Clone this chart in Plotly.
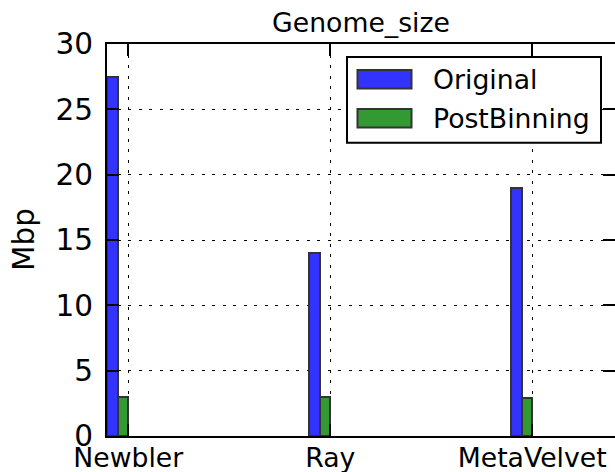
import plotly.graph_objects as go

# Genome size per assembler, before and after binning (Mbp)
categories = ["Newbler", "Ray", "MetaVelvet"]
original = [27.5, 14.0, 19.0]
post_binning = [3.0, 3.0, 2.9]
series_names = ["Original", "PostBinning"]
y_ticks = [0, 5, 10, 15, 20, 25, 30]

W, H = 615, 472
L, R, T, B = 107, 0, 44, 35.5
PW, PH = W - L - R, H - T - B

FONT = "DejaVu Sans"
FS = 26.7      # title, x tick labels, legend
FS_Y = 29.5    # y tick labels and y label
BLUE = "#3333ff"
GREEN = "#339933"
EDGE = "#333333"

bar_w = 0.0527
positions = list(range(len(categories)))


def px_x(px):
    return (px - L) / PW


def px_y(py):
    return (H - B - py) / PH


fig = go.Figure()
fig.add_trace(go.Bar(
    x=positions, y=original, name=series_names[0],
    width=bar_w, offset=-2 * bar_w,
    marker=dict(color=BLUE, line=dict(color=EDGE, width=2)),
    showlegend=False,
))
fig.add_trace(go.Bar(
    x=positions, y=post_binning, name=series_names[1],
    width=bar_w, offset=-bar_w,
    marker=dict(color=GREEN, line=dict(color=EDGE, width=2)),
    showlegend=False,
))
# empty trace so the right-hand tick axis is drawn
fig.add_trace(go.Scatter(x=[None], y=[None], yaxis="y2", showlegend=False,
                         hoverinfo="skip"))

grid = dict(showgrid=True, gridcolor="black", gridwidth=1.3, griddash="3px,7.5px")

fig.update_layout(
    width=W, height=H,
    margin=dict(l=L, r=R, t=T, b=B, pad=0),
    paper_bgcolor="white", plot_bgcolor="white",
    font=dict(family=FONT, size=FS, color="black"),
    bargap=0,
    title=dict(text="Genome_size", x=0.5, xref="paper", xanchor="center",
               y=1 - 22.4 / H, yref="container", yanchor="middle",
               font=dict(family=FONT, size=FS, color="black")),
    xaxis=dict(
        range=[-2 * bar_w, 2.41], tickvals=positions, ticktext=categories,
        ticks="inside", ticklen=12, tickwidth=1.5, tickcolor="black",
        showline=True, linecolor="black", linewidth=2, mirror="ticks",
        zeroline=False, automargin=False, ticklabelstandoff=-3,
        tickfont=dict(family=FONT, size=FS, color="black"),
        layer="above traces", **grid,
    ),
    yaxis=dict(
        range=[0, 30], tickvals=y_ticks,
        ticks="inside", ticklen=12, tickwidth=1.5, tickcolor="black",
        showline=True, linecolor="black", linewidth=2, mirror=False,
        zeroline=False, automargin=False, ticklabelstandoff=6,
        tickfont=dict(family=FONT, size=FS_Y, color="black"),
        layer="above traces", **grid,
    ),
    yaxis2=dict(
        range=[0, 30], tickvals=y_ticks, overlaying="y", side="right",
        ticks="inside", ticklen=12, tickwidth=1.5, tickcolor="black",
        showticklabels=False, showgrid=False, showline=False, zeroline=False,
        automargin=False,
    ),
)

# y-axis label
fig.add_annotation(text="Mbp", textangle=-90, xref="paper", yref="paper",
                   x=px_x(24), y=0.5, xanchor="center", yanchor="middle",
                   showarrow=False, font=dict(family=FONT, size=FS_Y, color="black"))

# legend: frame, colour patches and labels
fig.add_shape(type="rect", xref="paper", yref="paper",
              x0=px_x(347), x1=px_x(601), y0=px_y(143), y1=px_y(57),
              line=dict(color="black", width=2), fillcolor="white", layer="above")
legend_rows = [(series_names[0], BLUE, 70, 88.5), (series_names[1], GREEN, 109, 127.5)]
for name, col, top, bot in legend_rows:
    fig.add_shape(type="rect", xref="paper", yref="paper",
                  x0=px_x(357.5), x1=px_x(411.5), y0=px_y(bot), y1=px_y(top),
                  line=dict(color=EDGE, width=2), fillcolor=col, layer="above")
    fig.add_annotation(text=name, xref="paper", yref="paper",
                       x=px_x(431), y=px_y((top + bot) / 2),
                       xanchor="left", yanchor="middle", showarrow=False,
                       font=dict(family=FONT, size=FS, color="black"))

fig.write_html("out.html")
